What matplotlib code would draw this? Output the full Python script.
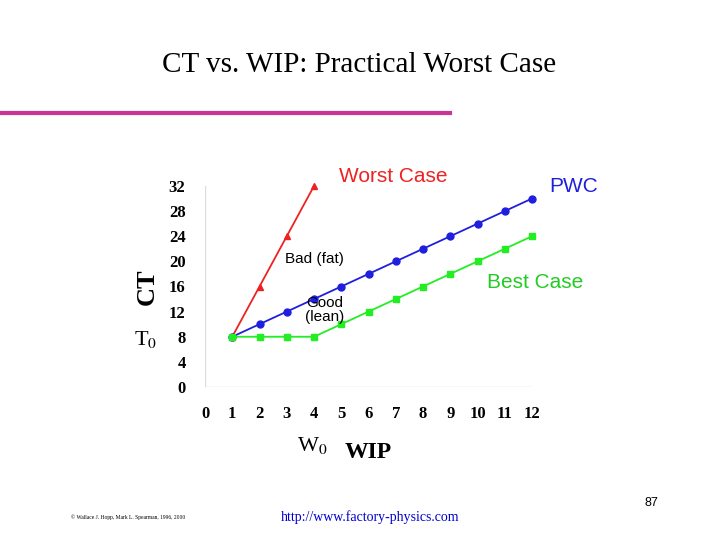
import matplotlib
matplotlib.use("Agg")
import matplotlib.pyplot as plt

plt.rcParams["mathtext.fontset"] = "stix"

wip = [1, 2, 3, 4, 5, 6, 7, 8, 9, 10, 11, 12]
worst_w = [1, 2, 3, 4]
worst_ct = [8, 16, 24, 32]
pwc_ct = [8, 10, 12, 14, 16, 18, 20, 22, 24, 26, 28, 30]
best_ct = [8, 8, 8, 8, 10, 12, 14, 16, 18, 20, 22, 24]
xticks = list(range(0, 13))
yticks = list(range(0, 33, 4))

W, H = 720, 540
fig = plt.figure(figsize=(7.2, 5.4), dpi=100)
serif = "Liberation Serif"
sans = "Liberation Sans"

fig.text(359 / W, 1 - 65 / H, "CT vs. WIP: Practical Worst Case", ha="center", va="center",
         fontsize=21, family=serif)
fig.add_artist(plt.Line2D([0, 450 / W], [1 - 113 / H] * 2, color="#cc3399", lw=3))

ax = fig.add_axes([205 / W, 1 - 387 / H, 327 / W, 201 / H])
ax.set_xlim(0, 12)
ax.set_ylim(0, 32)
ax.plot(worst_w, worst_ct, color="#ee2222", marker="^", ms=5, lw=1.3, clip_on=False)
ax.plot(wip, pwc_ct, color="#1f1fdd", marker="o", ms=5, lw=1.3, clip_on=False)
ax.plot(wip, best_ct, color="#22ee22", marker="s", ms=5, lw=1.3, clip_on=False)
ax.set_xticks(xticks)
ax.set_yticks(yticks)
for lab in ax.get_xticklabels() + ax.get_yticklabels():
    lab.set_family(serif)
    lab.set_fontweight("bold")
    lab.set_fontsize(12)
ax.tick_params(length=0, pad=14)
for s in ax.spines.values():
    s.set_visible(False)
ax.axvline(0, color="#dddddd", lw=1)
ax.axhline(0, color="#dddddd", lw=1)

fig.text(147 / W, 1 - 287 / H, "CT", rotation=90, ha="center", va="center", fontsize=19,
         fontweight="bold", family=serif)
fig.text(368 / W, 1 - 452 / H, "WIP", ha="center", va="center", fontsize=17,
         fontweight="bold", family=serif)
fig.text(146 / W, 1 - 340 / H, "T$_0$", ha="center", va="center", fontsize=16, family=serif)
fig.text(312 / W, 1 - 445 / H, "W$_0$", ha="center", va="center", fontsize=16, family=serif)

fig.text(393 / W, 1 - 177 / H, "Worst Case", ha="center", va="center", fontsize=15,
         color="#ee2222", family=sans)
fig.text(574 / W, 1 - 186 / H, "PWC", ha="center", va="center", fontsize=15,
         color="#1f1fdd", family=sans)
fig.text(535 / W, 1 - 283 / H, "Best Case", ha="center", va="center", fontsize=15,
         color="#22cc22", family=sans)
fig.text(314 / W, 1 - 259 / H, "Bad (fat)", ha="center", va="center", fontsize=11, family=sans)
fig.text(325 / W, 1 - 310 / H, "Good\n(lean)", ha="center", va="center", fontsize=11,
         family=sans, linespacing=1.0)

fig.text(128 / W, 1 - 517 / H, "© Wallace J. Hopp, Mark L. Spearman, 1996, 2000",
         ha="center", va="center", fontsize=4, family=serif)
fig.text(370 / W, 1 - 517 / H, "http://www.factory-physics.com", ha="center", va="center",
         fontsize=10, family=serif, color="#0000cc")
fig.text(651 / W, 1 - 503 / H, "87", ha="center", va="center", fontsize=9, family=sans)

fig.savefig("out.png", dpi=100)
